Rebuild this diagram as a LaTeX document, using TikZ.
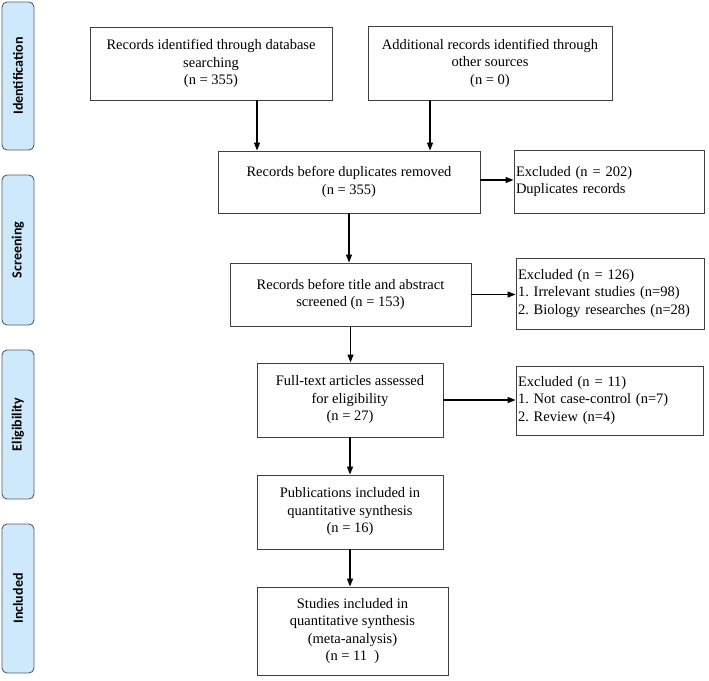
\documentclass[tikz,border=0pt]{standalone}
\usepackage{fontspec}
\setmainfont{Liberation Serif}
\newfontfamily\stagefont{Carlito}
\usetikzlibrary{arrows.meta}
\definecolor{stagefill}{RGB}{207,233,252}
\definecolor{stageline}{RGB}{85,92,100}
\frenchspacing
\tikzset{
	stage/.style={draw=stageline, line width=0.9pt, fill=stagefill, rounded corners=5pt, rotate=90, minimum height=32pt, inner sep=0pt, font=\stagefont\fontsize{14}{16}\selectfont\bfseries},
	box/.style={draw=black!75, line width=0.9pt, align=center, inner sep=2pt, font=\fontsize{14.5}{17.5}\selectfont},
	exbox/.style={draw=black!75, line width=0.9pt, align=left, inner sep=2pt, text width=#1, font=\fontsize{14.5}{17.5}\selectfont},
	arr/.style={line width=1.2pt, -{Triangle[length=8pt,width=6pt]}}
}

\begin{document}
\begin{tikzpicture}[x=1pt, y=-1pt]
		%%%%% START %%%%%
		\useasboundingbox (0, 0) rectangle (709, 680);
		
		% stages on the left
		\node[stage, minimum width=148pt] (ident) at (18, 76) {Identification};
		\node[stage, minimum width=150pt] (screen) at (18, 250) {Screening};
		\node[stage, minimum width=149pt] (elig) at (18, 424.5) {Eligibility};
		\node[stage, minimum width=149pt] (incl) at (18, 598.5) {Included};
		
		% main column
		\node[box, minimum width=242pt, minimum height=73pt] (dbrec) at (211, 63.5) {Records identified through database\\searching\\(n = 355)};
		\node[box, minimum width=244pt, minimum height=74pt] (otherrec) at (490, 63) {Additional records identified through\\other sources\\(n = 0)};
		\node[box, minimum width=262pt, minimum height=62pt] (dupl) at (349, 182) {Records before duplicates removed\\(n = 355)};
		\node[box, minimum width=241pt, minimum height=63pt] (title) at (350.5, 294.5) {Records before title and abstract\\screened (n = 153)};
		\node[box, minimum width=186pt, minimum height=74pt] (fulltext) at (350, 400) {Full-text articles assessed\\for eligibility\\(n = 27)};
		\node[box, minimum width=186pt, minimum height=74pt] (public) at (350, 512) {Publications included in\\quantitative synthesis\\(n = 16)};
		\node[box, minimum width=191pt, minimum height=88pt] (meta) at (352.5, 631) {Studies included in\\quantitative synthesis\\(meta-analysis)\\(n = 11~~)};
		
		% excluded on the right
		\node[exbox=186pt, minimum height=63pt] (exdupl) at (609, 181.5) {Excluded (n = 202)\\Duplicates records\\[6pt]};
		\node[exbox=184pt, minimum height=71pt] (extitle) at (610, 293.5) {Excluded (n = 126)\\1. Irrelevant studies (n=98)\\2. Biology researches (n=28)};
		\node[exbox=183pt, minimum height=69pt] (exfull) at (609.5, 400.5) {Excluded (n = 11)\\1. Not case-control (n=7)\\2. Review (n=4)};
		
		% arrows
		\draw[arr] ([xshift=46pt]dbrec.south) -- ([xshift=46pt]dbrec.south |- dupl.north);
		\draw[arr] ([xshift=-60pt]otherrec.south) -- ([xshift=-60pt]otherrec.south |- dupl.north);
		\draw[arr] ([yshift=2pt]dupl.east) -- ([yshift=2pt]dupl.east -| exdupl.west);
		\draw[arr] (dupl.south) -- (dupl.south |- title.north);
		\draw[arr] (title.east) -- (title.east -| extitle.west);
		\draw[arr] (title.south) -- (title.south |- fulltext.north);
		\draw[arr] (fulltext.east) -- (fulltext.east -| exfull.west);
		\draw[arr] (fulltext.south) -- (public.north);
		\draw[arr] (public.south) -- (public.south |- meta.north);
		%%%%% END %%%%%
\end{tikzpicture}
\end{document}
